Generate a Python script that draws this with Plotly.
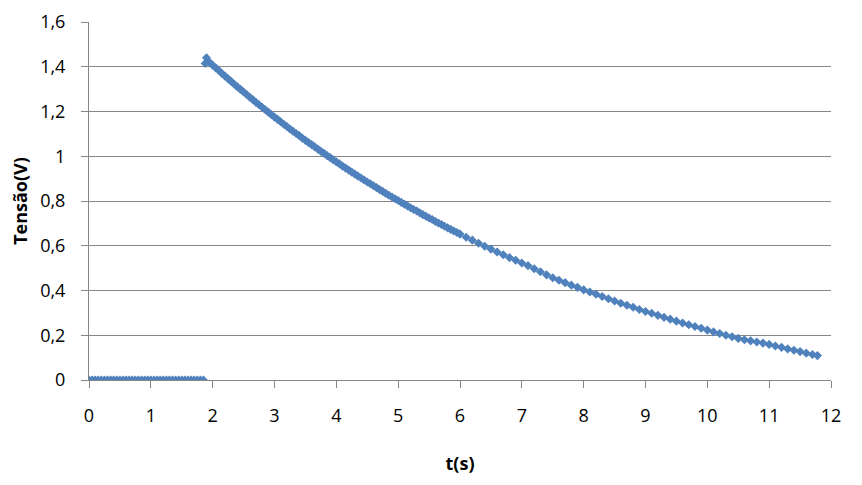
import plotly.graph_objects as go

# Off phase (zero voltage)
t_zero = [0.00, 0.05, 0.10, 0.15, 0.20, 0.25, 0.30, 0.35, 0.40, 0.45,
          0.50, 0.55, 0.60, 0.65, 0.70, 0.75, 0.80, 0.85, 0.90, 0.95,
          1.00, 1.05, 1.10, 1.15, 1.20, 1.25, 1.30, 1.35, 1.40, 1.45,
          1.50, 1.55, 1.60, 1.65, 1.70, 1.75, 1.80, 1.85]
v_zero = [0.0, 0.0, 0.0, 0.0, 0.0, 0.0, 0.0, 0.0, 0.0, 0.0,
          0.0, 0.0, 0.0, 0.0, 0.0, 0.0, 0.0, 0.0, 0.0, 0.0,
          0.0, 0.0, 0.0, 0.0, 0.0, 0.0, 0.0, 0.0, 0.0, 0.0,
          0.0, 0.0, 0.0, 0.0, 0.0, 0.0, 0.0, 0.0]

# Discharge phase
t_decay = [1.88, 1.90, 1.95, 2.00, 2.05, 2.10, 2.15, 2.20, 2.25, 2.30, 2.35,
           2.40, 2.45, 2.50, 2.55, 2.60, 2.65, 2.70, 2.75, 2.80, 2.85,
           2.90, 2.95, 3.00, 3.05, 3.10, 3.15, 3.20, 3.25, 3.30, 3.35,
           3.40, 3.45, 3.50, 3.55, 3.60, 3.65, 3.70, 3.75, 3.80, 3.85,
           3.90, 3.95, 4.00, 4.05, 4.10, 4.15, 4.20, 4.25, 4.30, 4.35,
           4.40, 4.45, 4.50, 4.55, 4.60, 4.65, 4.70, 4.75, 4.80, 4.85,
           4.90, 4.95, 5.00, 5.05, 5.10, 5.15, 5.20, 5.25, 5.30, 5.35,
           5.40, 5.45, 5.50, 5.55, 5.60, 5.65, 5.70, 5.75, 5.80, 5.85,
           5.90, 5.95, 6.00, 6.10, 6.20, 6.30, 6.40, 6.50, 6.60, 6.70,
           6.80, 6.90, 7.00, 7.10, 7.20, 7.30, 7.40, 7.50, 7.60, 7.70,
           7.80, 7.90, 8.00, 8.10, 8.20, 8.30, 8.40, 8.50, 8.60, 8.70,
           8.80, 8.90, 9.00, 9.10, 9.20, 9.30, 9.40, 9.50, 9.60, 9.70,
           9.80, 9.90, 10.00, 10.10, 10.20, 10.30, 10.40, 10.50, 10.60, 10.70,
           10.80, 10.90, 11.00, 11.10, 11.20, 11.30, 11.40, 11.50, 11.60, 11.70,
           11.78]
v_decay = [1.415, 1.440, 1.420, 1.407, 1.395, 1.383, 1.370, 1.358, 1.346, 1.334, 1.322,
           1.310, 1.299, 1.287, 1.276, 1.264, 1.253, 1.241, 1.230, 1.219, 1.208,
           1.197, 1.186, 1.175, 1.165, 1.154, 1.143, 1.133, 1.122, 1.112, 1.102,
           1.092, 1.081, 1.071, 1.061, 1.052, 1.042, 1.032, 1.022, 1.013, 1.003,
           0.994, 0.984, 0.975, 0.966, 0.956, 0.947, 0.938, 0.929, 0.920, 0.911,
           0.903, 0.894, 0.885, 0.877, 0.868, 0.860, 0.851, 0.843, 0.834, 0.826,
           0.818, 0.810, 0.802, 0.794, 0.786, 0.778, 0.770, 0.762, 0.755, 0.747,
           0.739, 0.732, 0.724, 0.717, 0.709, 0.702, 0.695, 0.687, 0.680, 0.673,
           0.666, 0.659, 0.652, 0.638, 0.625, 0.611, 0.598, 0.585, 0.572, 0.560,
           0.547, 0.535, 0.523, 0.511, 0.497, 0.484, 0.470, 0.457, 0.446, 0.435,
           0.424, 0.414, 0.403, 0.393, 0.383, 0.373, 0.363, 0.353, 0.343, 0.334,
           0.325, 0.315, 0.306, 0.298, 0.289, 0.280, 0.272, 0.263, 0.255, 0.247,
           0.239, 0.231, 0.223, 0.215, 0.208, 0.200, 0.193, 0.186, 0.180, 0.175,
           0.170, 0.165, 0.159, 0.152, 0.146, 0.139, 0.133, 0.127, 0.120, 0.114,
           0.109]

x_ticks = [0, 1, 2, 3, 4, 5, 6, 7, 8, 9, 10, 11, 12]
y_ticks = [0, 0.2, 0.4, 0.6, 0.8, 1.0, 1.2, 1.4, 1.6]
y_tick_labels = ["0", "0,2", "0,4", "0,6", "0,8", "1", "1,2", "1,4", "1,6"]

t_all = t_zero + t_decay
v_all = v_zero + v_decay

BLUE = "#4F81BD"
GRID = "#868686"
FONT = "Open Sans, Noto Sans, sans-serif"

fig = go.Figure()
fig.add_trace(go.Scatter(
    x=t_all, y=v_all, mode="markers",
    marker=dict(symbol="diamond", size=7, color=BLUE, line=dict(width=0)),
    showlegend=False,
))

# the page body adds an 8px offset, so margins are reduced accordingly
fig.update_layout(
    width=862, height=485,
    margin=dict(l=81, r=39, t=14, b=113),
    paper_bgcolor="white", plot_bgcolor="white",
    font=dict(family=FONT, size=18, color="black"),
    showlegend=False,
)
fig.update_xaxes(
    range=[0, 12], tickvals=x_ticks, ticktext=[str(v) for v in x_ticks],
    showgrid=False, zeroline=False, automargin=False,
    showline=True, linecolor=GRID, linewidth=1,
    ticks="outside", ticklen=7, tickcolor=GRID,
    ticklabelstandoff=12,
    title=dict(text="<b>t(s)</b>", font=dict(size=18), standoff=31),
)
fig.update_yaxes(
    range=[0, 1.6], tickvals=y_ticks, ticktext=y_tick_labels,
    showgrid=True, gridcolor=GRID, gridwidth=1, zeroline=False, automargin=False,
    showline=True, linecolor=GRID, linewidth=1,
    ticks="outside", ticklen=7, tickcolor=GRID,
    ticklabelstandoff=12,
    title=dict(text="<b>Tensão(V)</b>", font=dict(size=18), standoff=8),
)

fig.write_html("out.html")
